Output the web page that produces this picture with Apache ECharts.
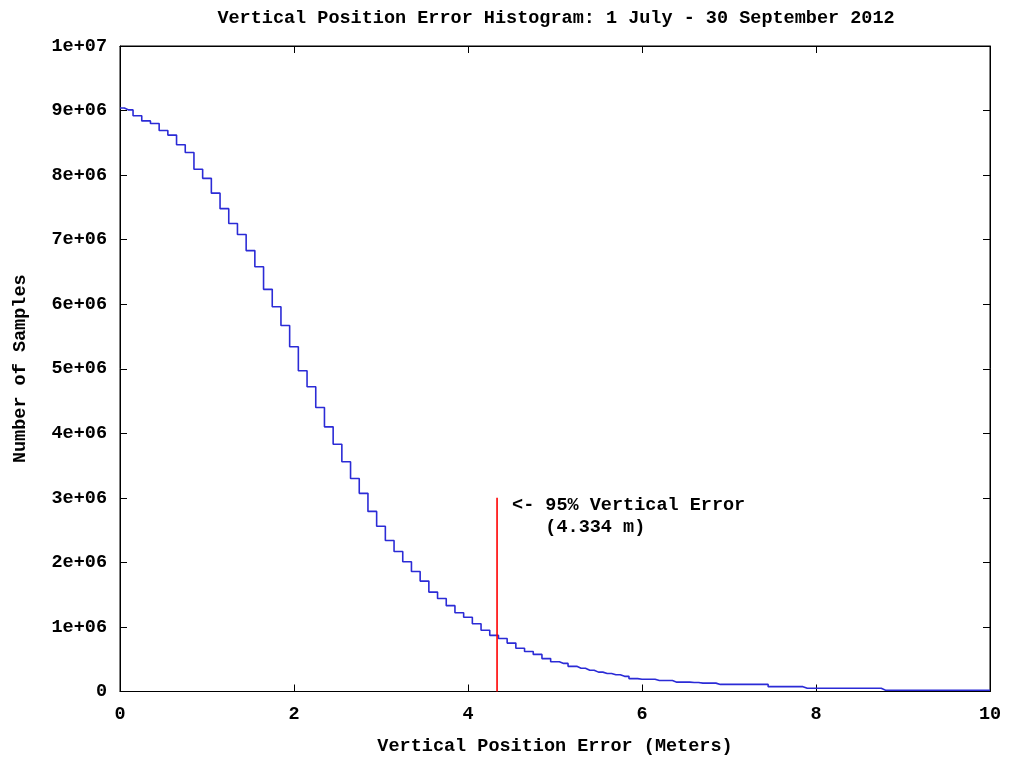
<!DOCTYPE html>
<html>
<head>
<meta charset="utf-8">
<script src="https://cdn.jsdelivr.net/npm/echarts@6/dist/echarts.min.js"></script>
<style>
  html, body { margin: 0; padding: 0; background: #fff; }
  #chart { width: 1010px; height: 757px; }
</style>
</head>
<body>
<div id="chart"></div>
<script>
// Histogram bins: 0.1 m wide, centred on 0.0, 0.1, ... 10.0
const binWidth = 0.1;
// Samples per bin (millions), one entry per bin centre
const countsMillions = [
  9.04, 9.01, 8.92, 8.84, 8.80, 8.69, 8.62, 8.47, 8.35, 8.09,
  7.95, 7.72, 7.48, 7.25, 7.08, 6.83, 6.58, 6.23, 5.96, 5.67,
  5.34, 4.97, 4.72, 4.40, 4.10, 3.83, 3.56, 3.30, 3.07, 2.79,
  2.56, 2.34, 2.17, 2.01, 1.86, 1.71, 1.54, 1.44, 1.33, 1.22,
  1.15, 1.05, 0.95, 0.87, 0.82, 0.75, 0.67, 0.62, 0.575, 0.51,
  0.46, 0.435, 0.39, 0.36, 0.33, 0.30, 0.28, 0.26, 0.235, 0.20,
  0.19, 0.19, 0.17, 0.17, 0.145, 0.145, 0.14, 0.13, 0.13, 0.11,
  0.11, 0.11, 0.11, 0.11, 0.11, 0.075, 0.075, 0.075, 0.075, 0.05,
  0.05, 0.05, 0.05, 0.05, 0.05, 0.05, 0.05, 0.05, 0.02, 0.02,
  0.02, 0.02, 0.02, 0.02, 0.02, 0.02, 0.02, 0.02, 0.02, 0.02,
  0.02
];
// 95th percentile of the vertical error (m) and height of its marker (samples)
const p95 = 4.334;
const p95MarkerTop = 3e6;

const xTickLabels = ['0', '2', '4', '6', '8', '10'];
const yTickLabels = ['0', '1e+06', '2e+06', '3e+06', '4e+06', '5e+06',
                     '6e+06', '7e+06', '8e+06', '9e+06', '1e+07'];

const FONT = "'Liberation Mono', 'DejaVu Sans Mono', monospace";
const FS = 18.5;

const stepData = countsMillions.map((c, i) => [+(i * binWidth).toFixed(1), c * 1e6]);

// fresh style objects for each axis (gnuplot-style inward ticks)
const tick = () => ({ show: true, inside: true, length: 7, lineStyle: { color: '#000', width: 1 } });
const axLine = () => ({ show: true, onZero: false, lineStyle: { color: '#000', width: 1 } });
const font = (extra) => Object.assign({ fontFamily: FONT, fontWeight: 'bold', fontSize: FS, color: '#000' }, extra || {});

const chart = echarts.init(document.getElementById('chart'), null, { renderer: 'canvas' });

chart.setOption({
  animation: false,
  backgroundColor: '#fff',
  textStyle: { fontFamily: FONT, fontWeight: 'bold', color: '#000' },
  title: {
    text: 'Vertical Position Error Histogram: 1 July - 30 September 2012',
    left: 551,
    textAlign: 'center',
    top: 4,
    textStyle: font()
  },
  grid: {
    left: 120, top: 46, right: 20, bottom: 65.5,
    outerBoundsMode: 'none',
    show: true, borderColor: '#000', borderWidth: 1, backgroundColor: 'transparent'
  },
  xAxis: [
    {
      type: 'value', min: 0, max: 10, interval: 2, position: 'bottom',
      axisLine: axLine(), axisTick: tick(), splitLine: { show: false },
      axisLabel: font({ margin: 13, formatter: v => xTickLabels[Math.round(v / 2)] }),
      name: 'Vertical Position Error (Meters)',
      nameLocation: 'middle', nameGap: 45,
      nameTextStyle: font()
    },
    {
      type: 'value', min: 0, max: 10, interval: 2, position: 'top',
      axisLine: axLine(), axisTick: tick(), splitLine: { show: false },
      axisLabel: { show: false }
    }
  ],
  yAxis: [
    {
      type: 'value', min: 0, max: 1e7, interval: 1e6, position: 'left',
      axisLine: axLine(), axisTick: tick(), splitLine: { show: false },
      axisLabel: font({ margin: 13, formatter: v => yTickLabels[Math.round(v / 1e6)] }),
      name: 'Number of Samples',
      nameLocation: 'middle', nameGap: 90, nameRotate: 90,
      nameTextStyle: font()
    },
    {
      type: 'value', min: 0, max: 1e7, interval: 1e6, position: 'right',
      axisLine: axLine(), axisTick: tick(), splitLine: { show: false },
      axisLabel: { show: false }
    }
  ],
  series: [
    {
      name: 'Samples',
      type: 'line',
      step: 'middle',
      xAxisIndex: 0, yAxisIndex: 0,
      data: stepData,
      symbol: 'none',
      lineStyle: { color: '#2b2bd6', width: 1.6 },
      z: 3
    },
    {
      name: '95%',
      type: 'line',
      xAxisIndex: 0, yAxisIndex: 0,
      data: [[p95, 0], [p95, p95MarkerTop]],
      symbol: 'none',
      lineStyle: { color: '#ff0000', width: 1.6 },
      z: 4,
      markPoint: {
        symbol: 'circle',
        symbolSize: 0,
        data: [{ coord: [p95, p95MarkerTop] }],
        label: font({
          show: true,
          position: [15, -4],
          align: 'left',
          verticalAlign: 'top',
          lineHeight: 22,
          formatter: () => '<- 95% Vertical Error\n   (' + p95.toFixed(3) + ' m)'
        })
      }
    },
    // empty series keeping the top and right frame axes alive
    { type: 'line', xAxisIndex: 1, yAxisIndex: 1, data: [], symbol: 'none' }
  ]
});
</script>
</body>
</html>
